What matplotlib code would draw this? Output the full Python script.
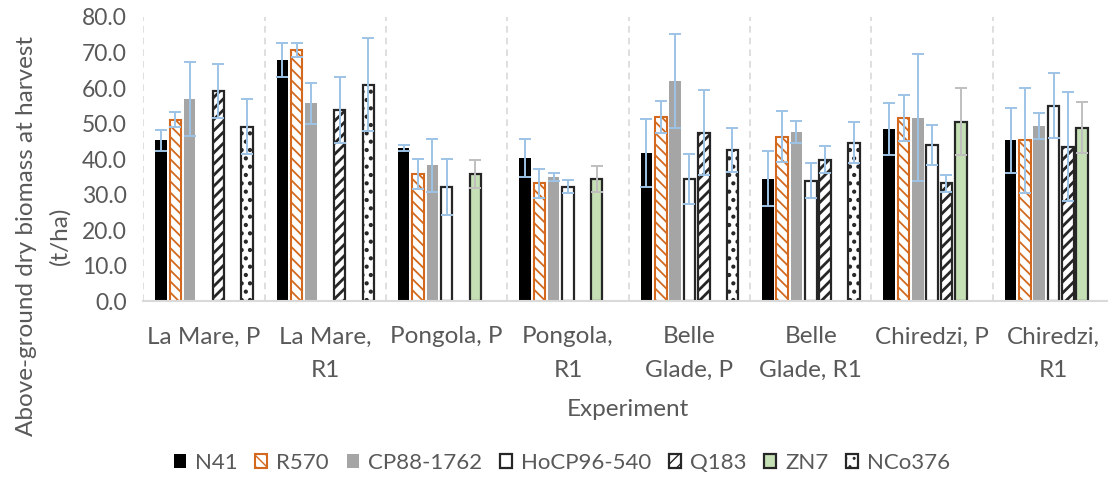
import numpy as np
import matplotlib.pyplot as plt

plt.rcParams['font.family'] = ['Lato', 'DejaVu Sans']

# experiments on the x axis
groups = ['La Mare, P', 'La Mare,\nR1', 'Pongola, P', 'Pongola,\nR1',
          'Belle\nGlade, P', 'Belle\nGlade, R1', 'Chiredzi, P', 'Chiredzi,\nR1']

nan = np.nan
varieties = ['N41', 'R570', 'CP88-1762', 'HoCP96-540', 'Q183', 'ZN7', 'NCo376']

n41 = [45.3, 67.8, 43.2, 40.3, 41.7, 34.5, 48.5, 45.3]
n41_err = [3.0, 4.8, 0.9, 5.4, 9.5, 7.7, 7.4, 9.2]
r570 = [51.1, 70.8, 35.9, 33.2, 52.0, 46.3, 51.6, 45.3]
r570_err = [2.1, 2.0, 4.3, 4.0, 4.5, 7.2, 6.5, 14.8]
cp88 = [57.0, 55.7, 38.3, 35.0, 62.0, 47.7, 51.7, 49.4]
cp88_err = [10.4, 5.8, 7.5, 1.1, 13.3, 3.0, 17.8, 3.6]
hocp = [nan, nan, 32.3, 32.3, 34.4, 34.0, 43.9, 55.1]
hocp_err = [nan, nan, 7.9, 1.8, 7.0, 5.0, 5.6, 9.2]
q183 = [59.3, 53.9, nan, nan, 47.5, 39.8, 33.2, 43.5]
q183_err = [7.6, 9.3, nan, nan, 12.0, 3.8, 2.5, 15.3]
zn7 = [nan, nan, 35.9, 34.5, nan, nan, 50.6, 48.9]
zn7_err = [nan, nan, 4.0, 3.7, nan, nan, 9.4, 7.2]
nco = [49.2, 61.0, nan, nan, 42.6, 44.7, nan, nan]
nco_err = [7.7, 13.0, nan, nan, 6.3, 5.9, nan, nan]

values = [n41, r570, cp88, hocp, q183, zn7, nco]
errors = [n41_err, r570_err, cp88_err, hocp_err, q183_err, zn7_err, nco_err]

# (face, edge, hatch, linewidth, hatch linewidth, error colour)
styles = [
    ('black', 'black', None, 0, 1.0, '#9DC3E6'),
    ('white', '#D2691E', '\\\\\\', 1.5, 1.3, '#9DC3E6'),
    ('#A5A5A5', '#A5A5A5', None, 0, 1.0, '#9DC3E6'),
    ('white', '#262626', None, 1.6, 1.0, '#9DC3E6'),
    ('white', '#262626', '///', 1.6, 2.0, '#9DC3E6'),
    ('#C5E0B4', '#262626', None, 1.6, 1.0, '#BFBFBF'),
    ('white', '#262626', '..', 1.6, 1.8, '#9DC3E6'),
]

txt = '#595959'
fs = 17.5

fig = plt.figure(figsize=(11.08, 4.95), dpi=100)
ax = fig.add_axes([0.1293, 0.391, 0.8763, 0.5747])

x = np.arange(len(groups))
step = 0.118
width = 0.095
for i, (vals, errs, st) in enumerate(zip(values, errors, styles)):
    face, edge, hatch, lw, hlw, ecol = st
    pos = x + (i - 3) * step
    with plt.rc_context({'hatch.linewidth': hlw}):
        bars = ax.bar(pos, vals, width, color=face, edgecolor=edge, hatch=hatch,
                      linewidth=lw, label=varieties[i], zorder=2)
    for b in bars:
        if hasattr(b, 'set_hatch_linewidth'):
            b.set_hatch_linewidth(hlw)
    ax.errorbar(pos, vals, yerr=errs, fmt='none', ecolor=ecol,
                elinewidth=1.4, capsize=4, capthick=1.4, zorder=3)

ax.set_xlim(-0.5, len(groups) - 0.5)
ax.set_ylim(0, 80)
ax.set_yticks(np.arange(0, 81, 10))
ax.set_yticklabels(['%.1f' % v for v in np.arange(0, 81, 10)])
ax.set_xticks(x)
ax.set_xticklabels(groups, linespacing=1.75)

for b in np.arange(-0.5, len(groups), 1.0):
    ax.axvline(b, color='#D9D9D9', linestyle=(0, (4, 3)), linewidth=1.2, zorder=1)

for s in ['left', 'right', 'top']:
    ax.spines[s].set_visible(False)
ax.spines['bottom'].set_color('#D9D9D9')
ax.spines['bottom'].set_linewidth(1.5)
ax.tick_params(axis='both', length=0, labelsize=fs, colors=txt)
ax.tick_params(axis='y', labelsize=16.5, pad=12)
ax.tick_params(axis='x', pad=18)

fig.text(43 / 1108, 1 - 236 / 495, 'Above-ground dry biomass at harvest\n(t/ha)',
         rotation=90, ha='center', va='center', multialignment='center',
         fontsize=fs, color=txt, linespacing=1.7)
fig.text(628 / 1108, 1 - 410 / 495, 'Experiment', ha='center', va='center',
         fontsize=fs, color=txt)

fig.legend(loc='center', bbox_to_anchor=(562 / 1108, 1 - 463 / 495), ncol=7,
           frameon=False, fontsize=16, labelcolor=txt, handlelength=0.55,
           handleheight=0.55, handletextpad=0.4, columnspacing=0.8)

fig.savefig('out.png', dpi=100)
